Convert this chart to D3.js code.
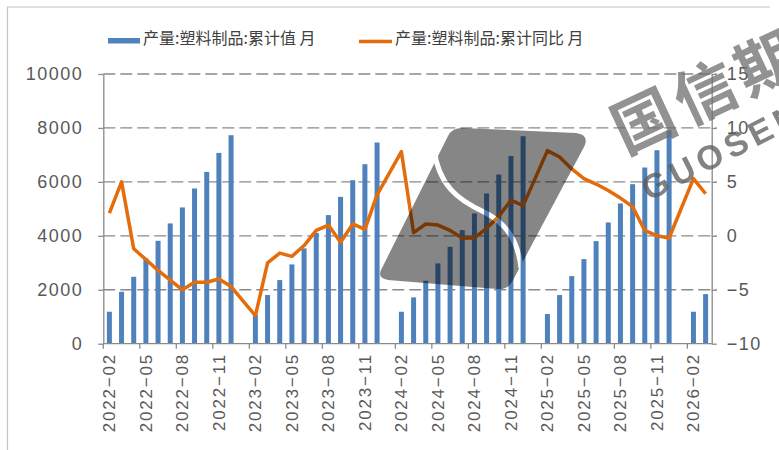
<!DOCTYPE html>
<html>
<head>
<meta charset="utf-8">
<script src="https://cdn.jsdelivr.net/npm/d3@7"></script>
<style>
	body { margin: 0; background: #fff; }
	text { font-family: "Liberation Sans", Arial, sans-serif; }
</style>
</head>
<body>
<script>
// categories: every month from 2022-02 to 2026-03 (January has no cumulative figure)
let months = d3.timeMonth.range(new Date(2022, 1, 1), new Date(2026, 3, 1)).map(d3.timeFormat('%Y-%m'))

// 产量:塑料制品:累计值 (万吨)
let cumValue = [
	1185, 1926, 2481, 3163, 3815, 4459, 5052, 5755, 6370, 7074, 7730,
	null, 1070, 1804, 2359, 2940, 3533, 4111, 4767, 5444, 6063, 6656, 7459,
	null, 1185, 1718, 2333, 2977, 3593, 4211, 4830, 5570, 6274, 6963, 7693,
	null, 1100, 1804, 2507, 3137, 3804, 4496, 5200, 5915, 6533, 7174, 7915,
	null, 1185, 1840,
]

// 产量:塑料制品:累计同比 (%)
let cumYoy = [
	2.1, 5.0, -1.2, -2.2, -3.2, -4.1, -5.0, -4.3, -4.3, -4.0, -4.7,
	null, -7.4, -2.5, -1.6, -1.9, -0.9, 0.5, 1.0, -0.6, 1.1, 0.6, 3.8,
	null, 7.8, 0.3, 1.1, 1.0, 0.5, -0.2, -0.2, 0.7, 1.8, 3.3, 2.8,
	null, 7.9, 7.3, 6.2, 5.3, 4.8, 4.2, 3.5, 2.7, 0.5, 0.0, -0.2,
	null, 5.3, 3.9,
]

let leftTicks = [0, 2000, 4000, 6000, 8000, 10000]
let rightTicks = [-10, -5, 0, 5, 10, 15]
let seriesNames = ['产量:塑料制品:累计值 月', '产量:塑料制品:累计同比 月']

let WIDTH = 779
let HEIGHT = 450
let PLOT = { left: 103.3, right: 711.7, top: 74, bottom: 343.7 }
let BAR_COLOR = '#4f81bd'
let LINE_COLOR = '#e46c0a'
let AXIS_COLOR = '#8a8a8a'
let LABEL_COLOR = '#595959'

let svg = d3.select('body').append('svg')
	.attr('width', WIDTH)
	.attr('height', HEIGHT)

// frame of the screenshot
svg.append('path')
	.attr('d', `M 7.5 450 L 7.5 7 L 770 7`)
	.attr('fill', 'none')
	.attr('stroke', '#c4c4c4')
	.attr('stroke-width', 1.2)

let x = d3.scaleBand()
	.domain(months)
	.range([PLOT.left, PLOT.right])
	.padding(0)

let yL = d3.scaleLinear().domain([0, 10000]).range([PLOT.bottom, PLOT.top])
let yR = d3.scaleLinear().domain([-10, 15]).range([PLOT.bottom, PLOT.top])

// dashed grid
svg.append('g').selectAll('line')
	.data(leftTicks.filter((t) => t > 0))
	.enter().append('line')
		.attr('x1', PLOT.left)
		.attr('x2', PLOT.right + 5)
		.attr('y1', (d) => yL(d))
		.attr('y2', (d) => yL(d))
		.attr('stroke', AXIS_COLOR)
		.attr('stroke-width', 1.3)
		.attr('stroke-dasharray', '12 5')

function styleAxis(g) {
	g.select('.domain').attr('stroke', AXIS_COLOR).attr('stroke-width', 1.3)
	g.selectAll('.tick line').attr('stroke', AXIS_COLOR).attr('stroke-width', 1.3)
	g.selectAll('.tick text')
		.attr('fill', LABEL_COLOR)
		.style('font-size', '18px')
		.style('letter-spacing', '1.5px')
}

svg.append('g')
	.attr('transform', `translate(${PLOT.left}, 0)`)
	.call(d3.axisLeft(yL).tickValues(leftTicks).tickSizeInner(5).tickSizeOuter(0).tickPadding(15)
		.tickFormat(d3.format('d')))
	.call(styleAxis)

svg.append('g')
	.attr('transform', `translate(${PLOT.right}, 0)`)
	.call(d3.axisRight(yR).tickValues(rightTicks).tickSizeInner(5).tickSizeOuter(0).tickPadding(10)
		.tickFormat((d) => d < 0 ? '\u2212' + Math.abs(d) : d))
	.call(styleAxis)

// bars
let barW = 5
svg.append('g').selectAll('rect')
	.data(months.map((m, i) => ({ m: m, v: cumValue[i] })).filter((d) => d.v != null))
	.enter().append('rect')
		.attr('x', (d) => x(d.m) + (x.bandwidth() - barW) / 2)
		.attr('y', (d) => yL(d.v))
		.attr('width', barW)
		.attr('height', (d) => PLOT.bottom - yL(d.v))
		.attr('fill', BAR_COLOR)

// category axis, ticks on band edges every 3 months
let xAxis = svg.append('g')
xAxis.append('line')
	.attr('x1', PLOT.left).attr('x2', PLOT.right)
	.attr('y1', PLOT.bottom).attr('y2', PLOT.bottom)
	.attr('stroke', AXIS_COLOR)
	.attr('stroke-width', 1.3)

let shown = months.filter((m, i) => i % 3 === 0)
xAxis.selectAll('line.tick')
	.data(shown)
	.enter().append('line')
		.attr('class', 'tick')
		.attr('x1', (d) => x(d)).attr('x2', (d) => x(d))
		.attr('y1', PLOT.bottom).attr('y2', PLOT.bottom + 5)
		.attr('stroke', AXIS_COLOR)
		.attr('stroke-width', 1.3)

xAxis.selectAll('text')
	.data(shown)
	.enter().append('text')
		.attr('transform', (d) => `translate(${x(d) + x.bandwidth() / 2}, 353) rotate(-90)`)
		.attr('text-anchor', 'end')
		.attr('dy', '0.35em')
		.attr('fill', LABEL_COLOR)
		.style('font-size', '17px')
		.style('letter-spacing', '1.8px')
		.text((d) => d.replace('-', '\u2212'))

// line, drawn straight across the missing Januaries
let linePts = months.map((m, i) => ({ m: m, v: cumYoy[i] })).filter((d) => d.v != null)
svg.append('path')
	.datum(linePts)
	.attr('fill', 'none')
	.attr('stroke', LINE_COLOR)
	.attr('stroke-width', 3.5)
	.attr('stroke-linejoin', 'round')
	.attr('d', d3.line()
		.x((d) => x(d.m) + x.bandwidth() / 2)
		.y((d) => yR(d.v)))

// legend
let legend = svg.append('g')
legend.append('rect')
	.attr('x', 108).attr('y', 38).attr('width', 32).attr('height', 5.5)
	.attr('fill', BAR_COLOR)
legend.append('line')
	.attr('x1', 359).attr('x2', 392).attr('y1', 41.5).attr('y2', 41.5)
	.attr('stroke', LINE_COLOR)
	.attr('stroke-width', 3.5)
legend.selectAll('text')
	.data(seriesNames)
	.enter().append('text')
		.attr('x', (d, i) => i ? 395 : 143)
		.attr('y', 38.5)
		.attr('dy', '0.35em')
		.attr('fill', '#404040')
		.style('font-family', '"Noto Sans CJK SC", sans-serif')
		.style('font-size', '16px')
		.text((d) => d)

// watermark of the source
let defs = svg.append('defs')
let mask = defs.append('mask').attr('id', 'logo-cut')
mask.append('rect').attr('width', WIDTH).attr('height', HEIGHT).attr('fill', '#fff')
mask.append('path')
	.attr('d', 'M 434 148 C 438 185 458 200 484 212 C 506 223 518 240 521 268')
	.attr('fill', 'none')
	.attr('stroke', '#000')
	.attr('stroke-width', 5)

svg.append('path')
	.attr('d', 'M 448 136 Q 452 128 462 128 L 576 133 Q 590 135 584 147 L 512 282 Q 507 290 497 289 L 388 280 Q 376 278 382 268 Z')
	.attr('fill', '#000')
	.attr('opacity', 0.47)
	.attr('mask', 'url(#logo-cut)')

svg.append('text')
	.attr('transform', 'translate(644, 122) rotate(-25)')
	.attr('x', -31)
	.attr('dy', '0.35em')
	.attr('fill', '#6e6e6e')
	.attr('opacity', 0.75)
	.style('font-family', '"Noto Sans CJK SC", sans-serif')
	.style('font-weight', 'bold')
	.style('font-size', '62px')
	.style('letter-spacing', '6px')
	.text('国信期货')

svg.append('text')
	.attr('transform', 'translate(655, 185) rotate(-27)')
	.attr('x', -13)
	.attr('dy', '0.35em')
	.attr('fill', '#5a5a5a')
	.attr('opacity', 0.75)
	.style('font-weight', 'bold')
	.style('font-size', '34px')
	.style('letter-spacing', '5px')
	.text('GUOSEN')
</script>
</body>
</html>
